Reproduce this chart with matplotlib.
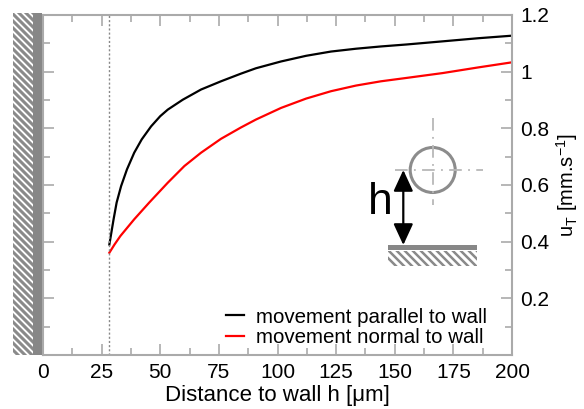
import numpy as np
import matplotlib
matplotlib.use('Agg')
import matplotlib.pyplot as plt
from matplotlib.ticker import MultipleLocator
from matplotlib.patches import Rectangle, Circle, FancyArrowPatch

plt.rcParams['font.family'] = ['Liberation Sans', 'DejaVu Sans']
plt.rcParams['mathtext.fontset'] = 'custom'
plt.rcParams['mathtext.rm'] = 'Liberation Sans'
plt.rcParams['mathtext.it'] = 'Liberation Sans'

# distance to wall h [um] and settling velocity u_T [mm/s]
h_par = [28.3, 30.1, 31.4, 33.3, 35.8, 38.9, 42.1, 46.1, 50.0, 53.2, 59.6,
         67.4, 75.9, 84.4, 90.8, 101.5, 112.2, 122.8, 133.5, 144.1, 155.1,
         170.4, 185.6, 200]
u_par = [0.39, 0.479, 0.538, 0.596, 0.655, 0.714, 0.761, 0.807, 0.843, 0.866,
         0.901, 0.937, 0.966, 0.993, 1.012, 1.036, 1.056, 1.071, 1.081, 1.089,
         1.096, 1.107, 1.118, 1.127]
h_norm = [28.3, 30.5, 33.0, 38.9, 45.3, 53.2, 60.3, 67.4, 75.9, 84.4, 90.8,
          101.5, 112.2, 122.8, 133.5, 144.1, 155.1, 170.4, 185.6, 200]
u_norm = [0.361, 0.390, 0.42, 0.479, 0.538, 0.608, 0.667, 0.714, 0.763, 0.803,
          0.831, 0.872, 0.905, 0.931, 0.951, 0.966, 0.978, 0.995, 1.015, 1.033]
h_min = 28.3

W, H = 584, 409
GRAY = '#aaaaaa'


def hatch(ax, x0, y0, x1, y1, step=7.0, lw=2.0, color='#8a8a8a'):
    clip = Rectangle((x0, y0), x1 - x0, y1 - y0, transform=ax.transData,
                     facecolor='none', edgecolor='none')
    ax.add_patch(clip)
    c = y0 - x1
    while c < y1 - x0:
        xs = np.array([x0 - 5, x1 + 5])
        ln, = ax.plot(xs, xs + c, color=color, lw=lw, solid_capstyle='butt')
        ln.set_clip_path(clip)
        c += step


fig = plt.figure(figsize=(W / 100, H / 100), dpi=100)
ax = fig.add_axes([43 / W, 1 - 355 / H, (512 - 43) / W, (355 - 15) / H])

ax.plot(h_par, u_par, color='black', lw=1.6, label='movement parallel to wall')
ax.plot(h_norm, u_norm, color='red', lw=1.6, label='movement normal to wall')
ax.axvline(h_min, color='#888888', lw=1.0, ls=(0, (1.5, 1.5)))

ax.set_xlim(0, 200)
ax.set_ylim(0, 1.2)
ax.set_xticks(np.arange(0, 201, 25))
ax.xaxis.set_minor_locator(MultipleLocator(12.5))
ax.set_yticks(np.arange(0.2, 1.21, 0.2))
ax.set_yticklabels(['0.2', '0.4', '0.6', '0.8', '1', '1.2'])
ax.yaxis.set_minor_locator(MultipleLocator(0.1))
ax.yaxis.set_label_position('right')
ax.tick_params(which='both', direction='in', top=True, bottom=True,
               left=True, right=True, labelleft=False, labelright=True,
               color=GRAY, width=1.2, labelsize=15, pad=6)
ax.tick_params(which='major', length=8)
ax.tick_params(which='minor', length=5)
for s in ax.spines.values():
    s.set_color(GRAY)
    s.set_linewidth(1.5)

ax.set_xlabel('Distance to wall h [\u03bcm]', fontsize=16, labelpad=2)
ax.set_ylabel(r'u$_\mathregular{T}$ [mm.s$^\mathregular{-1}$]', fontsize=14.5,
              labelpad=3)

ax.legend(loc='lower right', bbox_to_anchor=(0.987, -0.03), frameon=False,
          fontsize=14.8, handlelength=0.9, handletextpad=0.6, labelspacing=0.05)

# overlay in pixel units for the wall and the sketch
ov = fig.add_axes([0, 0, 1, 1], zorder=3)
ov.set_xlim(0, W)
ov.set_ylim(H, 0)
ov.axis('off')
ov.patch.set_alpha(0)

# wall on the left
hatch(ov, 13, 13, 33, 355, step=7.0, lw=2.2)
ov.add_patch(Rectangle((33, 13), 9, 342, facecolor='#878787', edgecolor='none'))

# sketch: sphere at height h above a wall
cx, cy, r = 432.7, 170, 22.5
dash = (0, (7, 3.5, 1, 3.5))
ov.plot([cx, cx], [118, 205], color='#b8b8b8', lw=1.3, ls=dash)
ov.plot([395, 483], [cy, cy], color='#b8b8b8', lw=1.3, ls=dash)
ov.add_patch(Circle((cx, cy), r, facecolor='none', edgecolor='#8c8c8c', lw=2.2))
ov.add_patch(Rectangle((388, 245), 89, 5, facecolor='#878787', edgecolor='none'))
hatch(ov, 388, 251, 477, 266, step=8.0, lw=1.8)
ov.add_patch(FancyArrowPatch((403.3, 170), (403.3, 245),
                             arrowstyle='<|-|>,head_length=0.65,head_width=0.3',
                             mutation_scale=20, color='black', lw=1.6,
                             shrinkA=0, shrinkB=0))
ov.text(380, 202, 'h', fontsize=32, ha='center', va='center')

fig.savefig('out.png', dpi=100)
